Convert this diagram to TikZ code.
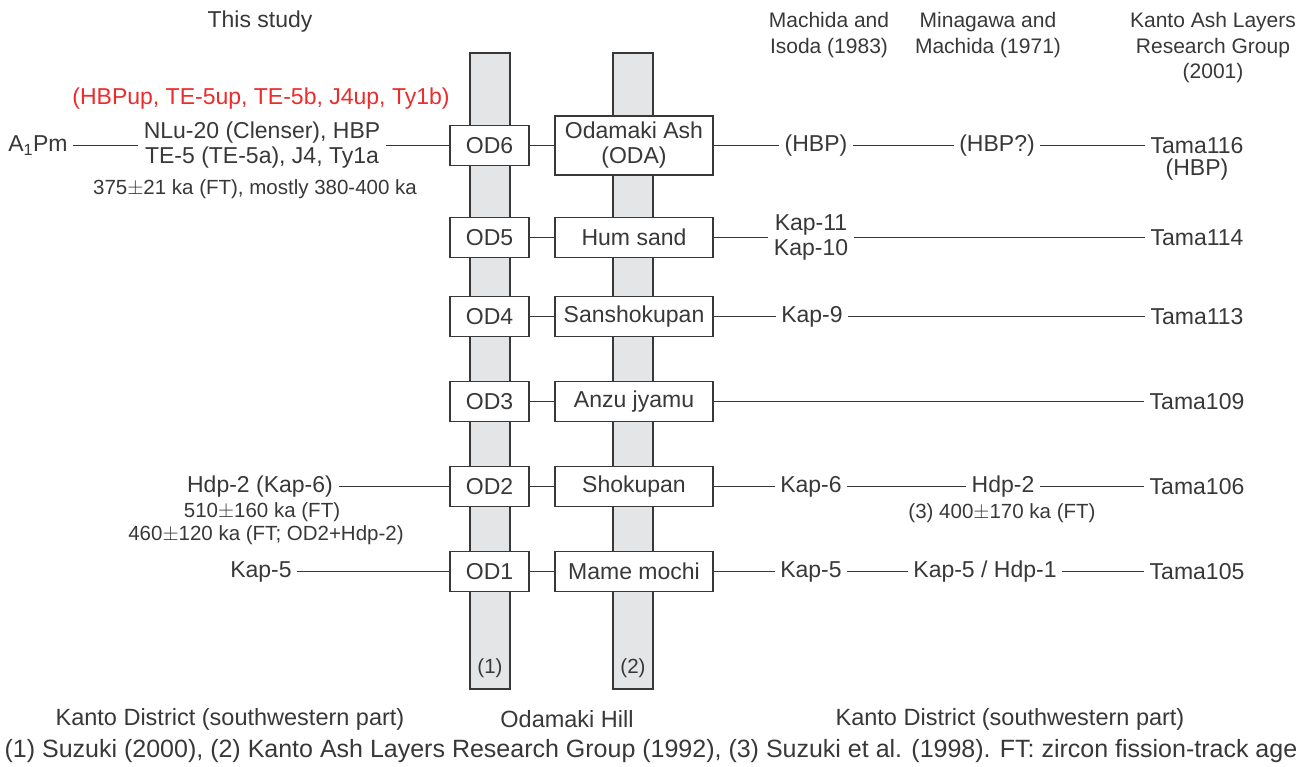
\documentclass[tikz,border=0pt]{standalone}
\usepackage{fontspec}
\setmainfont{Liberation Sans}
\usepackage{tikz}
\usetikzlibrary{positioning}

\definecolor{ink}{HTML}{383838}
\definecolor{barfill}{HTML}{E4E5E7}
\definecolor{hot}{HTML}{EC2B2B}

\begin{document}
\begin{tikzpicture}[x=1pt,y=-1pt,color=ink,line width=1.4pt,
  od box/.style={draw,fill=white,minimum width=79pt,minimum height=40pt,inner sep=0pt,align=center,font=\fontsize{23}{25}\selectfont},
  ash box/.style={od box,minimum width=158pt},
  label/.style={inner xsep=5pt,inner ysep=1pt,align=center,font=\fontsize{23}{25}\selectfont},
  small/.style={inner sep=1pt,align=center,font=\fontsize{20.5}{23}\selectfont},
  head/.style={inner sep=1pt,align=center,font=\fontsize{21}{25.5}\selectfont},
  foot/.style={inner sep=1pt,font=\fontsize{25}{26}\selectfont},
  bar/.style={draw,fill=barfill}]
  \useasboundingbox (0,0) rectangle (1301,767);

  % the two columns
  \draw[bar] (470,53) rectangle (510,689);
  \draw[bar] (613,53) rectangle (653,689);
  \node[small] (ref1) at (490,668) {(1)};
  \node[small] (ref2) at (633,668) {(2)};

  % column headers
  \node[label] (study) at (260,22) {This study};
  \node[head] (machida) at (829,35) {Machida and\\Isoda (1983)};
  \node[head] (minagawa) at (988,35) {Minagawa and\\Machida (1971)};
  \node[head] (kalrg) at (1213,48) {Kanto Ash Layers\\Research Group\\(2001)};
  \node[label,text=hot] (redlist) at (261,99) {(HBPup, TE-5up, TE-5b, J4up, Ty1b)};

  % Odamaki Hill units
  \node[od box] (OD6) at (489.5,145.5) {OD6};
  \node[od box] (OD5) at (489.5,237.5) {OD5};
  \node[od box] (OD4) at (489.5,316.5) {OD4};
  \node[od box] (OD3) at (489.5,401.5) {OD3};
  \node[od box] (OD2) at (489.5,486.5) {OD2};
  \node[od box] (OD1) at (489.5,571.5) {OD1};
  \node[ash box,minimum height=59pt] (ODA) at (634,145.5) {Odamaki Ash\\(ODA)};
  \node[ash box] (hum) at (634,237.5) {Hum sand};
  \node[ash box] (sansho) at (634,316.5) {Sanshokupan};
  \node[ash box] (anzu) at (634,401.5) {Anzu jyamu};
  \node[ash box] (shoku) at (634,486.5) {Shokupan};
  \node[ash box] (mame) at (634,571.5) {Mame mochi};

  % this study
  \node[label] (apm) at (38,145.5) {A\textsubscript{1}Pm};
  \node[label] (nlu) at (262,145.5) {NLu-20 (Clenser), HBP\\TE-5 (TE-5a), J4, Ty1a};
  \node[small] (age6) at (255,189) {375$\pm$21 ka (FT), mostly 380-400 ka};
  \node[label] (hdpkap) at (260,486.5) {Hdp-2 (Kap-6)};
  \node[small] (age2a) at (262,512) {510$\pm$160 ka (FT)};
  \node[small] (age2b) at (266,535) {460$\pm$120 ka (FT; OD2+Hdp-2)};
  \node[label] (kap5l) at (261,571.5) {Kap-5};

  % Machida and Isoda (1983), Minagawa and Machida (1971)
  \node[label] (hbp) at (816,145.5) {(HBP)};
  \node[label] (hbpq) at (997,145.5) {(HBP?)};
  \node[label] (kap11) at (811,237.5) {Kap-11\\Kap-10};
  \node[label] (kap9) at (812,316.5) {Kap-9};
  \node[label] (kap6) at (811,486.5) {Kap-6};
  \node[label] (hdp2) at (1003,486.5) {Hdp-2};
  \node[small] (age2c) at (1002,513) {(3) 400$\pm$170 ka (FT)};
  \node[label] (kap5) at (811,571.5) {Kap-5};
  \node[label] (kaphdp) at (985,571.5) {Kap-5 / Hdp-1};

  % Kanto Ash Layers Research Group (2001)
  \node[label] (tama116) at (1197,145.5) {Tama116};
  \node[label] (tamahbp) at (1197,170) {(HBP)};
  \node[label] (tama114) at (1197,237.5) {Tama114};
  \node[label] (tama113) at (1197,316.5) {Tama113};
  \node[label] (tama109) at (1197,401.5) {Tama109};
  \node[label] (tama106) at (1197,486.5) {Tama106};
  \node[label] (tama105) at (1197,571.5) {Tama105};

  \path
    (apm) edge (nlu)
    (nlu) edge (OD6)
    (OD6) edge (ODA)
    (ODA) edge (hbp)
    (hbp) edge (hbpq)
    (hbpq) edge (tama116)
    (OD5) edge (hum)
    (hum) edge (kap11)
    (kap11) edge (tama114)
    (OD4) edge (sansho)
    (sansho) edge (kap9)
    (kap9) edge (tama113)
    (OD3) edge (anzu)
    (anzu) edge (tama109)
    (hdpkap) edge (OD2)
    (OD2) edge (shoku)
    (shoku) edge (kap6)
    (kap6) edge (hdp2)
    (hdp2) edge (tama106)
    (kap5l) edge (OD1)
    (OD1) edge (mame)
    (mame) edge (kap5)
    (kap5) edge (kaphdp)
    (kaphdp) edge (tama105);

  % regions and sources
  \node[foot,font=\fontsize{23.5}{26}\selectfont] (kdleft) at (230,719) {Kanto District (southwestern part)};
  \node[foot,font=\fontsize{23.5}{26}\selectfont] (hill) at (567,719) {Odamaki Hill};
  \node[foot,font=\fontsize{23.5}{26}\selectfont] (kdright) at (1010,719) {Kanto District (southwestern part)};
  \node[foot] (sources) at (651,751) {(1) Suzuki (2000), (2) Kanto Ash Layers Research Group (1992), (3) Suzuki et al. (1998). FT: zircon fission-track age};
\end{tikzpicture}
\end{document}
